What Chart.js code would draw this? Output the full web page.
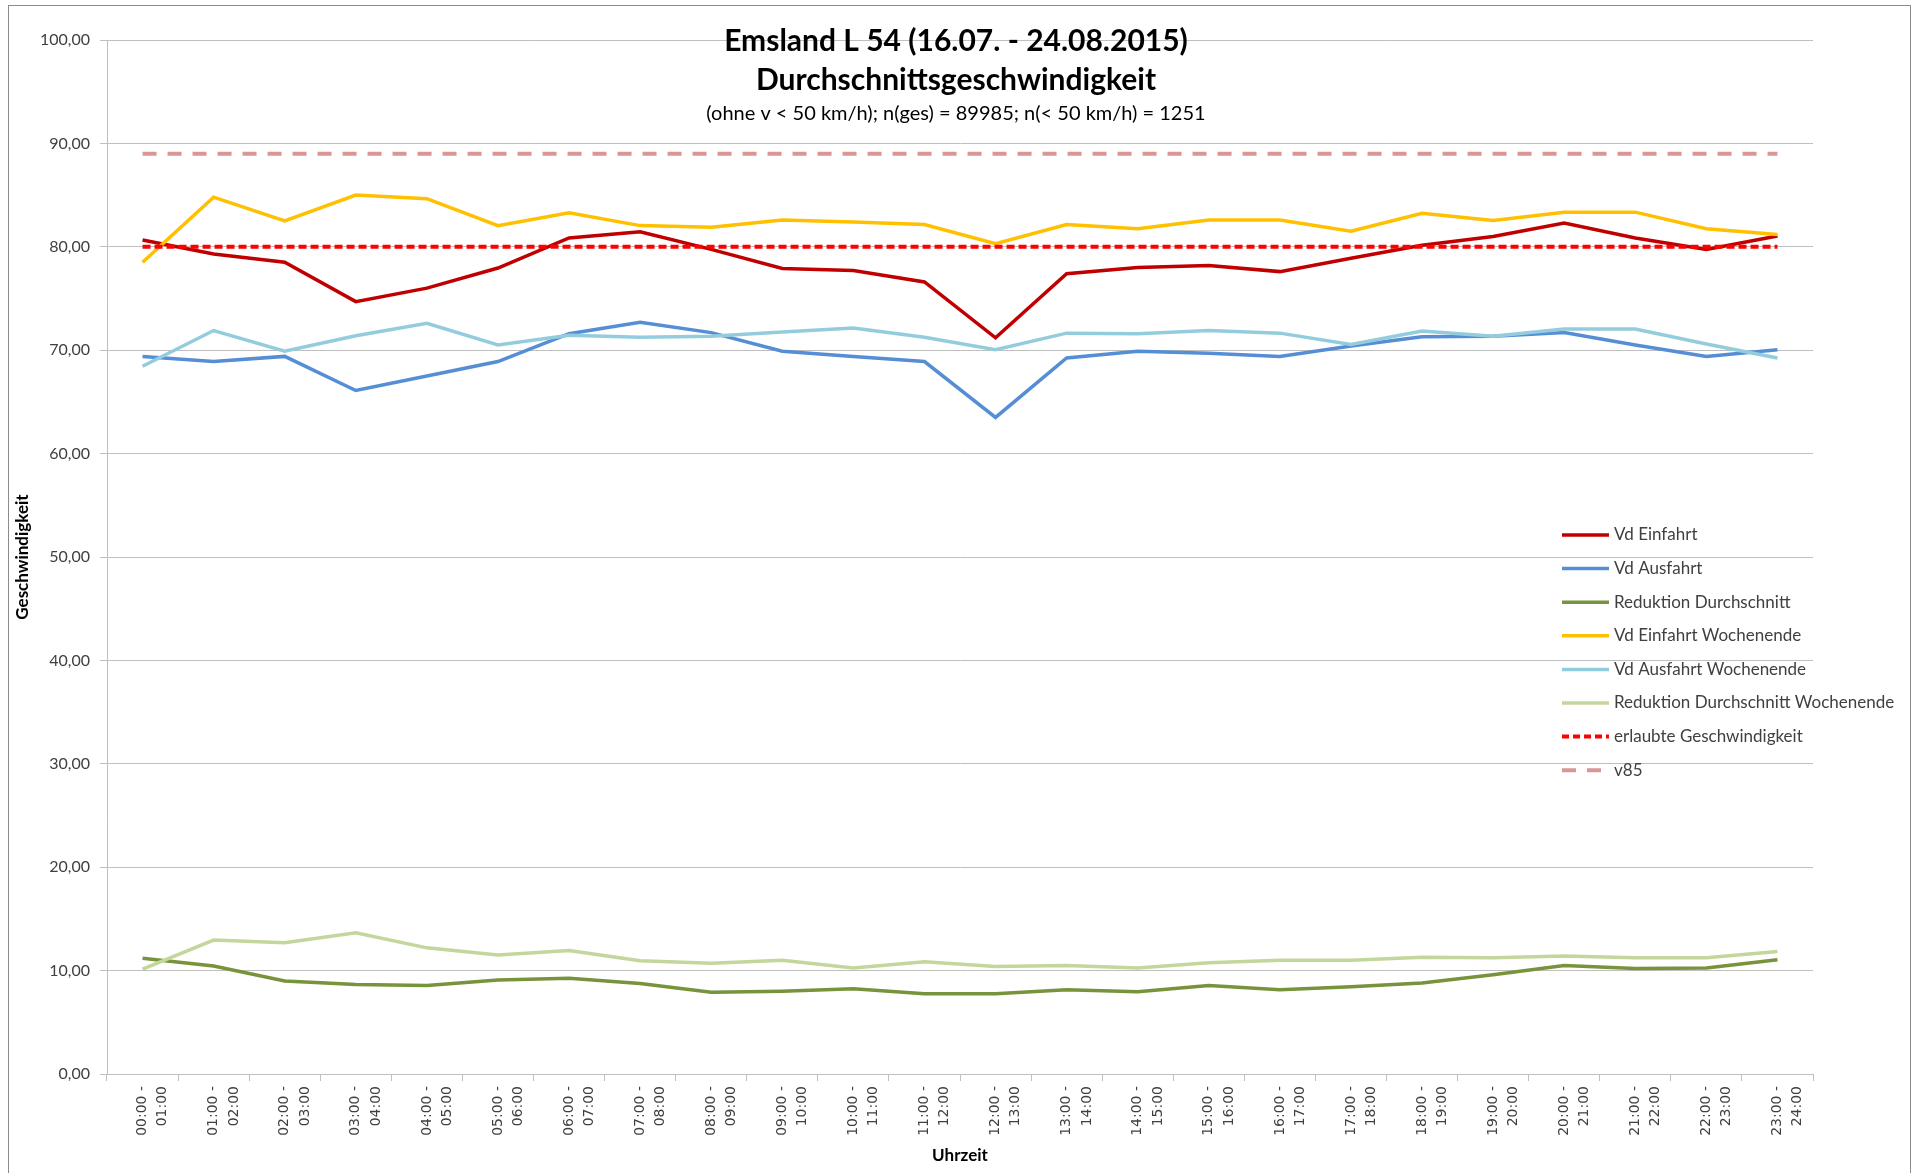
<!DOCTYPE html>
<html>
<head>
<meta charset="utf-8">
<title>Emsland L 54 - Durchschnittsgeschwindigkeit</title>
<script src="https://cdn.jsdelivr.net/npm/chart.js@4.4.1/dist/chart.umd.min.js"></script>
<style>
    html, body { margin: 0; padding: 0; background: #ffffff; }
    #wrap { width: 1914px; height: 1173px; position: relative; }
</style>
</head>
<body>
<div id="wrap"><canvas id="chart"></canvas></div>
<script>
// Categories (hour intervals)
const timeLabels = [
    ['00:00 -', '01:00'], ['01:00 -', '02:00'], ['02:00 -', '03:00'], ['03:00 -', '04:00'],
    ['04:00 -', '05:00'], ['05:00 -', '06:00'], ['06:00 -', '07:00'], ['07:00 -', '08:00'],
    ['08:00 -', '09:00'], ['09:00 -', '10:00'], ['10:00 -', '11:00'], ['11:00 -', '12:00'],
    ['12:00 -', '13:00'], ['13:00 -', '14:00'], ['14:00 -', '15:00'], ['15:00 -', '16:00'],
    ['16:00 -', '17:00'], ['17:00 -', '18:00'], ['18:00 -', '19:00'], ['19:00 -', '20:00'],
    ['20:00 -', '21:00'], ['21:00 -', '22:00'], ['22:00 -', '23:00'], ['23:00 -', '24:00']
];

// Series values (km/h)
const vdEinfahrt = [80.65, 79.3, 78.5, 74.7, 76.0, 77.95, 80.85, 81.45, 79.75, 77.9, 77.7, 76.6,
    71.2, 77.4, 78.0, 78.2, 77.6, 78.9, 80.15, 81.0, 82.3, 80.85, 79.75, 81.05];
const vdAusfahrt = [69.4, 68.9, 69.4, 66.1, 67.5, 68.9, 71.6, 72.7, 71.7, 69.9, 69.4, 68.9,
    63.5, 69.25, 69.9, 69.7, 69.4, 70.4, 71.3, 71.35, 71.7, 70.5, 69.4, 70.05];
const reduktion = [11.2, 10.45, 9.0, 8.65, 8.55, 9.1, 9.25, 8.75, 7.9, 8.0, 8.25, 7.75,
    7.75, 8.15, 7.95, 8.55, 8.15, 8.45, 8.8, 9.6, 10.5, 10.2, 10.25, 11.05];
const vdEinfahrtWE = [78.5, 84.8, 82.5, 85.0, 84.65, 82.05, 83.3, 82.05, 81.9, 82.6, 82.4, 82.15,
    80.3, 82.15, 81.75, 82.6, 82.6, 81.5, 83.25, 82.55, 83.35, 83.35, 81.75, 81.2];
const vdAusfahrtWE = [68.45, 71.9, 69.9, 71.4, 72.6, 70.5, 71.45, 71.25, 71.35, 71.75, 72.15, 71.25,
    70.05, 71.65, 71.6, 71.9, 71.65, 70.55, 71.85, 71.35, 72.05, 72.05, 70.6, 69.25];
const reduktionWE = [10.15, 12.95, 12.7, 13.65, 12.2, 11.5, 11.95, 10.95, 10.7, 11.0, 10.25, 10.85,
    10.4, 10.5, 10.25, 10.75, 11.0, 11.0, 11.3, 11.25, 11.4, 11.25, 11.25, 11.85];
const erlaubt = [80, 80, 80, 80, 80, 80, 80, 80, 80, 80, 80, 80,
    80, 80, 80, 80, 80, 80, 80, 80, 80, 80, 80, 80];
const v85 = [89, 89, 89, 89, 89, 89, 89, 89, 89, 89, 89, 89,
    89, 89, 89, 89, 89, 89, 89, 89, 89, 89, 89, 89];

// Axis ticks
const yMin = 0;
const yMax = 100;
const yStep = 10;

const titleLines = ['Emsland L 54 (16.07. - 24.08.2015)', 'Durchschnittsgeschwindigkeit'];
const subTitle = '(ohne v < 50 km/h); n(ges) = 89985; n(< 50 km/h) = 1251';

const FONT = "'Lato', 'Liberation Sans', sans-serif";

const seriesList = [
    { label: 'Vd Einfahrt', data: vdEinfahrt, color: '#C00000', dash: [] },
    { label: 'Vd Ausfahrt', data: vdAusfahrt, color: '#558ED5', dash: [] },
    { label: 'Reduktion Durchschnitt', data: reduktion, color: '#77933C', dash: [] },
    { label: 'Vd Einfahrt Wochenende', data: vdEinfahrtWE, color: '#FFC000', dash: [] },
    { label: 'Vd Ausfahrt Wochenende', data: vdAusfahrtWE, color: '#93CDDD', dash: [] },
    { label: 'Reduktion Durchschnitt Wochenende', data: reduktionWE, color: '#C3D69B', dash: [] },
    { label: 'erlaubte Geschwindigkeit', data: erlaubt, color: '#FF0000', dash: [8, 4] },
    { label: 'v85', data: v85, color: '#D99694', dash: [14, 11] }
];

// Outer frame + white background
const framePlugin = {
    id: 'frame',
    beforeDraw(chart) {
        const ctx = chart.ctx;
        ctx.save();
        ctx.fillStyle = '#ffffff';
        ctx.fillRect(0, 0, chart.width, chart.height);
        ctx.strokeStyle = '#8c8c8c';
        ctx.lineWidth = 1;
        ctx.strokeRect(8.5, 5.5, 1902, 1200);
        ctx.restore();
    }
};

// Title inside the plot area and legend on the right, Excel style
const overlayPlugin = {
    id: 'overlay',
    afterDraw(chart) {
        const ctx = chart.ctx;
        const area = chart.chartArea;
        const cx = (area.left + area.right) / 2 - 4;
        ctx.save();
        ctx.fillStyle = '#000000';
        ctx.textAlign = 'center';
        ctx.textBaseline = 'middle';
        ctx.font = 'bold 30px ' + FONT;
        ctx.fillText(titleLines[0], cx, 41);
        ctx.fillText(titleLines[1], cx, 80);
        ctx.font = '20px ' + FONT;
        ctx.fillText(subTitle, cx, 114);

        // legend
        const lx = area.right - 251;
        let ly = 535;
        ctx.textAlign = 'left';
        ctx.font = '17px ' + FONT;
        seriesList.forEach(s => {
            ctx.strokeStyle = s.color;
            ctx.lineWidth = s.dash.length ? 4 : 3.5;
            ctx.setLineDash(s.dash.length ? (s.label === 'v85' ? [14, 11] : [7, 4]) : []);
            ctx.beginPath();
            ctx.moveTo(lx, ly);
            ctx.lineTo(lx + 47, ly);
            ctx.stroke();
            ctx.setLineDash([]);
            ctx.fillStyle = '#404040';
            ctx.fillText(s.label, lx + 52, ly);
            ly += 33.6;
        });
        ctx.restore();
    }
};

const ctx = document.getElementById('chart').getContext('2d');

new Chart(ctx, {
    type: 'line',
    data: {
        labels: timeLabels,
        datasets: seriesList.map((s, i) => ({
            label: s.label,
            data: s.data,
            borderColor: s.color,
            backgroundColor: s.color,
            borderWidth: s.dash.length ? 4 : 3.5,
            borderDash: s.dash,
            pointRadius: 0,
            pointHoverRadius: 0,
            tension: 0,
            fill: false,
            order: seriesList.length - i
        }))
    },
    options: {
        responsive: true,
        maintainAspectRatio: false,
        animation: false,
        layout: {
            padding: { top: 40, right: 101, left: 0, bottom: 0 }
        },
        plugins: {
            legend: { display: false },
            title: { display: false },
            tooltip: { enabled: false }
        },
        scales: {
            x: {
                offset: true,
                afterFit: scale => { scale.height = 99; },
                grid: {
                    offset: true,
                    drawOnChartArea: false,
                    drawTicks: true,
                    tickLength: 7,
                    color: '#BFBFBF'
                },
                border: { color: '#BFBFBF', width: 1 },
                ticks: {
                    autoSkip: false,
                    minRotation: 90,
                    maxRotation: 90,
                    padding: 5,
                    color: '#404040',
                    font: { family: "'DejaVu Sans', sans-serif", size: 14, lineHeight: 1.45 }
                },
                title: {
                    display: true,
                    text: 'Uhrzeit',
                    color: '#000000',
                    font: { family: FONT, size: 17, weight: 'bold' },
                    padding: { top: 0, bottom: 7 }
                }
            },
            y: {
                min: yMin,
                max: yMax,
                afterFit: scale => { scale.width = 107; },
                grid: {
                    color: '#BFBFBF',
                    drawTicks: true,
                    tickLength: 7
                },
                border: { color: '#BFBFBF', width: 1 },
                ticks: {
                    stepSize: yStep,
                    padding: 10,
                    color: '#404040',
                    font: { family: FONT, size: 16 },
                    callback: v => v.toFixed(2).replace('.', ',')
                },
                title: {
                    display: true,
                    text: 'Geschwindigkeit',
                    color: '#000000',
                    font: { family: FONT, size: 17, weight: 'bold' },
                    padding: { top: 12, bottom: 0 }
                }
            }
        }
    },
    plugins: [framePlugin, overlayPlugin]
});
</script>
</body>
</html>
